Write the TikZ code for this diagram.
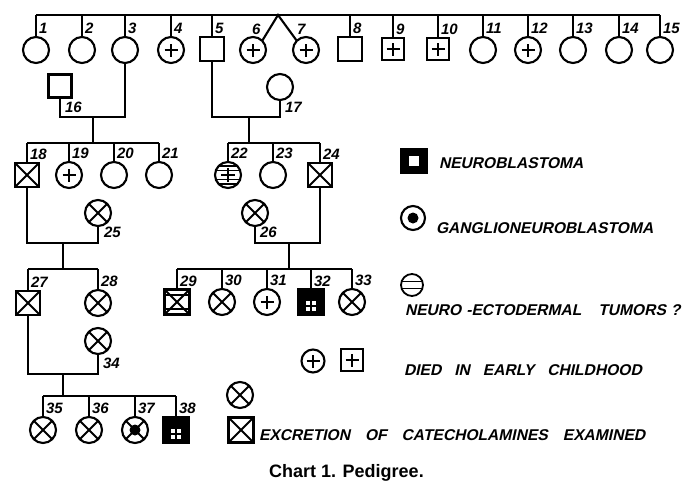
\documentclass[tikz,border=0pt]{standalone}
\usepackage{fontspec}
\setmainfont{Liberation Sans}
\newfontface\lgd[FakeSlant=0.22]{Liberation Sans Bold}
\usetikzlibrary{calc}
\begin{document}
\begin{tikzpicture}[x=1pt,y=-1pt,line width=2.1pt,
  ind/.style={draw,inner sep=0pt,outer sep=0pt},
  fem/.style={ind,circle,minimum size=26pt},
  mal/.style={ind,rectangle,minimum size=24pt},
  pls/.style={path picture={\draw[line width=2.2pt]
     ([xshift=-6.5pt]path picture bounding box.center) -- ([xshift=6.5pt]path picture bounding box.center)
     ([yshift=-6.5pt]path picture bounding box.center) -- ([yshift=6.5pt]path picture bounding box.center);}},
  crs/.style={path picture={\draw
     (path picture bounding box.north west) -- (path picture bounding box.south east)
     (path picture bounding box.north east) -- (path picture bounding box.south west);}},
  hatchplus/.style={path picture={\foreach \d in {-9,-4.5,4.5,9}{\draw[line width=1.3pt]
     ([yshift=\d pt]path picture bounding box.west) -- ([yshift=\d pt]path picture bounding box.east);}
     \draw[line width=2.2pt]
     ([xshift=-7pt]path picture bounding box.center) -- ([xshift=7pt]path picture bounding box.center)
     ([yshift=-7pt]path picture bounding box.center) -- ([yshift=7pt]path picture bounding box.center);}},
  crshatch/.style={path picture={\draw[line width=2pt]
     (path picture bounding box.north west) -- (path picture bounding box.south east)
     (path picture bounding box.north east) -- (path picture bounding box.south west);
     \foreach \d in {-7,7}{\draw[line width=1.3pt]
     ([yshift=\d pt]path picture bounding box.west) -- ([yshift=\d pt]path picture bounding box.east);}}},
  blk/.style={ind,rectangle,minimum size=25pt,fill=black,path picture={
     \foreach \a/\b in {-4.8/-4.8,1/-4.8,-4.8/1,1/1}{\fill[white]
     ([xshift=\a pt,yshift=\b pt]path picture bounding box.center) rectangle ++(3.8pt,-3.8pt);}}},
  num/.style={inner sep=0pt,font=\fontsize{15}{15}\selectfont\bfseries\itshape},
  lgtext/.style={inner sep=0pt,anchor=west,font=\lgd\fontsize{15.6}{16}\selectfont},
]
\useasboundingbox (0,0) rectangle (686,482);
% ---------- generation I ----------
\coordinate (top) at (0,15);
\node[fem] (p1) at (36,50) {};
\node[fem] (p2) at (82,50) {};
\node[fem] (p3) at (125,50) {};
\node[fem,pls] (p4) at (171,50) {};
\node[mal] (p5) at (212,49) {};
\node[fem,pls] (p6) at (253,50) {};
\node[fem,pls] (p7) at (306,50) {};
\node[mal] (p8) at (350,49) {};
\node[mal,pls,minimum size=22pt] (p9) at (393,49) {};
\node[mal,pls,minimum size=22pt] (p10) at (438,49) {};
\node[fem] (p11) at (483,50) {};
\node[fem,pls] (p12) at (528,50) {};
\node[fem] (p13) at (573,50) {};
\node[fem] (p14) at (619,50) {};
\node[fem] (p15) at (660,50) {};
\coordinate (tw) at (278,15);
\draw (p1.north |- top) -- (p15.north |- top);
\foreach \p in {p1,p2,p3,p4,p5,p8,p9,p10,p11,p12,p13,p14,p15}
  \draw (\p.north) -- (\p.north |- top);
\draw (p6.north east) -- (tw) -- (p7.north west);
\foreach \p/\t in {p1/1,p2/2,p3/3,p4/4,p5/5,p8/8,p9/9,p10/10,p11/11,p12/12,p13/13,p14/14,p15/15}
  \node[num,anchor=south west] (n\t) at ($(\p.north)+(2,-2)$) {\t};
\node[num,anchor=south west] (n6) at (251,36) {6};
\node[num,anchor=south west] (n7) at (296,36) {7};
% ---------- generation II ----------
\node[mal,minimum size=23pt] (p16) at (60,86) {};
\node[fem] (p17) at (280,87) {};
\coordinate (m1) at (0,117);
\draw (p16.south) -- (p16.south |- m1) -- (p3.south |- m1) -- (p3.south);
\draw (p5.south) -- (p5.south |- m1) -- (p17.south |- m1) -- (p17.south);
\node[num,anchor=south west] (n16) at ($(p16.south |- m1)+(4,-3)$) {16};
\node[num,anchor=south west] (n17) at ($(p17.south |- m1)+(4,-3)$) {17};
% ---------- generation III ----------
\coordinate (s3) at (0,143);
\coordinate (c1) at (93,117);
\coordinate (c2) at (249,117);
\node[mal,crs] (p18) at (27,175) {};
\node[fem,pls] (p19) at (69,175) {};
\node[fem] (p20) at (114,175) {};
\node[fem] (p21) at (159,175) {};
\node[fem,hatchplus] (p22) at (228,175) {};
\node[fem] (p23) at (273,175) {};
\node[mal,crs] (p24) at (320,175) {};
\draw (c1) -- (c1 |- s3);
\draw (c2) -- (c2 |- s3);
\draw (p18.north |- s3) -- (p21.north |- s3);
\draw (p22.north |- s3) -- (p24.north |- s3);
\foreach \p/\t in {p18/18,p19/19,p20/20,p21/21,p22/22,p23/23,p24/24}{
  \draw (\p.north) -- (\p.north |- s3);
  \node[num,anchor=south west] (n\t) at ($(\p.north)+(2,-2)$) {\t};}
\node[fem,crs] (p25) at (98,213) {};
\node[fem,crs] (p26) at (255,213) {};
\coordinate (m3) at (0,243);
\draw (p18.south) -- (p18.south |- m3) -- (p25.south |- m3) -- (p25.south);
\draw (p24.south) -- (p24.south |- m3) -- (p26.south |- m3) -- (p26.south);
\node[num,anchor=south west] (n25) at ($(p25.south |- m3)+(5,-4)$) {25};
\node[num,anchor=south west] (n26) at ($(p26.south |- m3)+(4,-4)$) {26};
% ---------- generation IV ----------
\coordinate (s4) at (0,269);
\coordinate (c3) at (63,243);
\coordinate (c4) at (289,243);
\node[mal,crshatch,line width=3.2pt,minimum size=25pt] (p29) at (177,302) {};
\node[mal,crs] (p27) at (28,303) {};
\node[fem,crs] (p28) at (98,303) {};
\node[fem,crs] (p30) at (222,302) {};
\node[fem,pls] (p31) at (267,302) {};
\node[blk] (p32) at (311,302) {};
\node[fem,crs] (p33) at (352,302) {};
\draw (c3) -- (c3 |- s4);
\draw (c4) -- (c4 |- s4);
\draw (p27.north |- s4) -- (p28.north |- s4);
\draw (p29.north |- s4) -- (p33.north |- s4);
\foreach \p/\t in {p27/27,p28/28,p29/29,p30/30,p31/31,p32/32,p33/33}{
  \draw (\p.north) -- (\p.north |- s4);
  \node[num,anchor=south west] (n\t) at ($(\p.north)+(2,-2)$) {\t};}
\node[fem,crs] (p34) at (98,341) {};
\coordinate (m4) at (0,374);
\draw (p27.south) -- (p27.south |- m4) -- (p34.south |- m4) -- (p34.south);
\node[num,anchor=south west] (n34) at ($(p34.south |- m4)+(4,-4)$) {34};
% ---------- generation V ----------
\coordinate (s5) at (0,396);
\coordinate (c5) at (63,374);
\node[fem,crs] (p35) at (43,430) {};
\node[fem,crs] (p36) at (89,430) {};
\node[fem,crs] (p37) at (135,430) {};
\fill (p37.center) circle (5.5pt);
\node[blk,minimum size=26pt] (p38) at (176,430) {};
\draw (c5) -- (c5 |- s5);
\draw (p35.north |- s5) -- (p38.north |- s5);
\foreach \p/\t in {p35/35,p36/36,p37/37,p38/38}{
  \draw (\p.north) -- (\p.north |- s5);
  \node[num,anchor=south west] (n\t) at ($(\p.north)+(2,-2)$) {\t};}
% ---------- legend ----------
\node[ind,rectangle,fill=black,minimum width=26pt,minimum height=24pt] (lg1) at (414,161) {};
\fill[white] ($(lg1.center)+(-4.6,-4.6)$) rectangle ($(lg1.center)+(4.6,4.6)$);
\node[lgtext] (t1) at (438,163) {NEUROBLASTOMA};
\node[fem,minimum size=24pt] (lg2) at (413,218) {};
\fill (lg2.center) circle (5.5pt);
\node[lgtext] (t2) at (435,228) {GANGLIONEUROBLASTOMA};
\node[fem,minimum size=22pt,line width=1.8pt,path picture={\foreach \d in {-3.5,3.5}{\draw[line width=1.4pt]
     ([yshift=\d pt]path picture bounding box.west) -- ([yshift=\d pt]path picture bounding box.east);}}] (lg3) at (412,285) {};
\node[lgtext] (t3) at (404,310) {NEURO\hspace{5pt}-ECTODERMAL\hspace{17pt}TUMORS\hspace{5pt}?};
\node[fem,pls,minimum size=23pt] (lg4) at (313,361) {};
\node[mal,pls,minimum size=22pt] (lg5) at (352,360) {};
\node[lgtext] (t4) at (403,370) {DIED\hspace{13pt}IN\hspace{13pt}EARLY\hspace{13pt}CHILDHOOD};
\node[fem,crs] (lg6) at (240,395) {};
\node[mal,crs,minimum size=25pt] (lg7) at (241,430) {};
\node[lgtext] (t5) at (258,435) {EXCRETION\hspace{15pt}OF\hspace{15pt}CATECHOLAMINES\hspace{15pt}EXAMINED};
\node[inner sep=0pt,anchor=base west,font=\fontsize{18}{18}\selectfont\bfseries] (cap) at (268,477) {Chart 1. Pedigree.};
\end{tikzpicture}
\end{document}
